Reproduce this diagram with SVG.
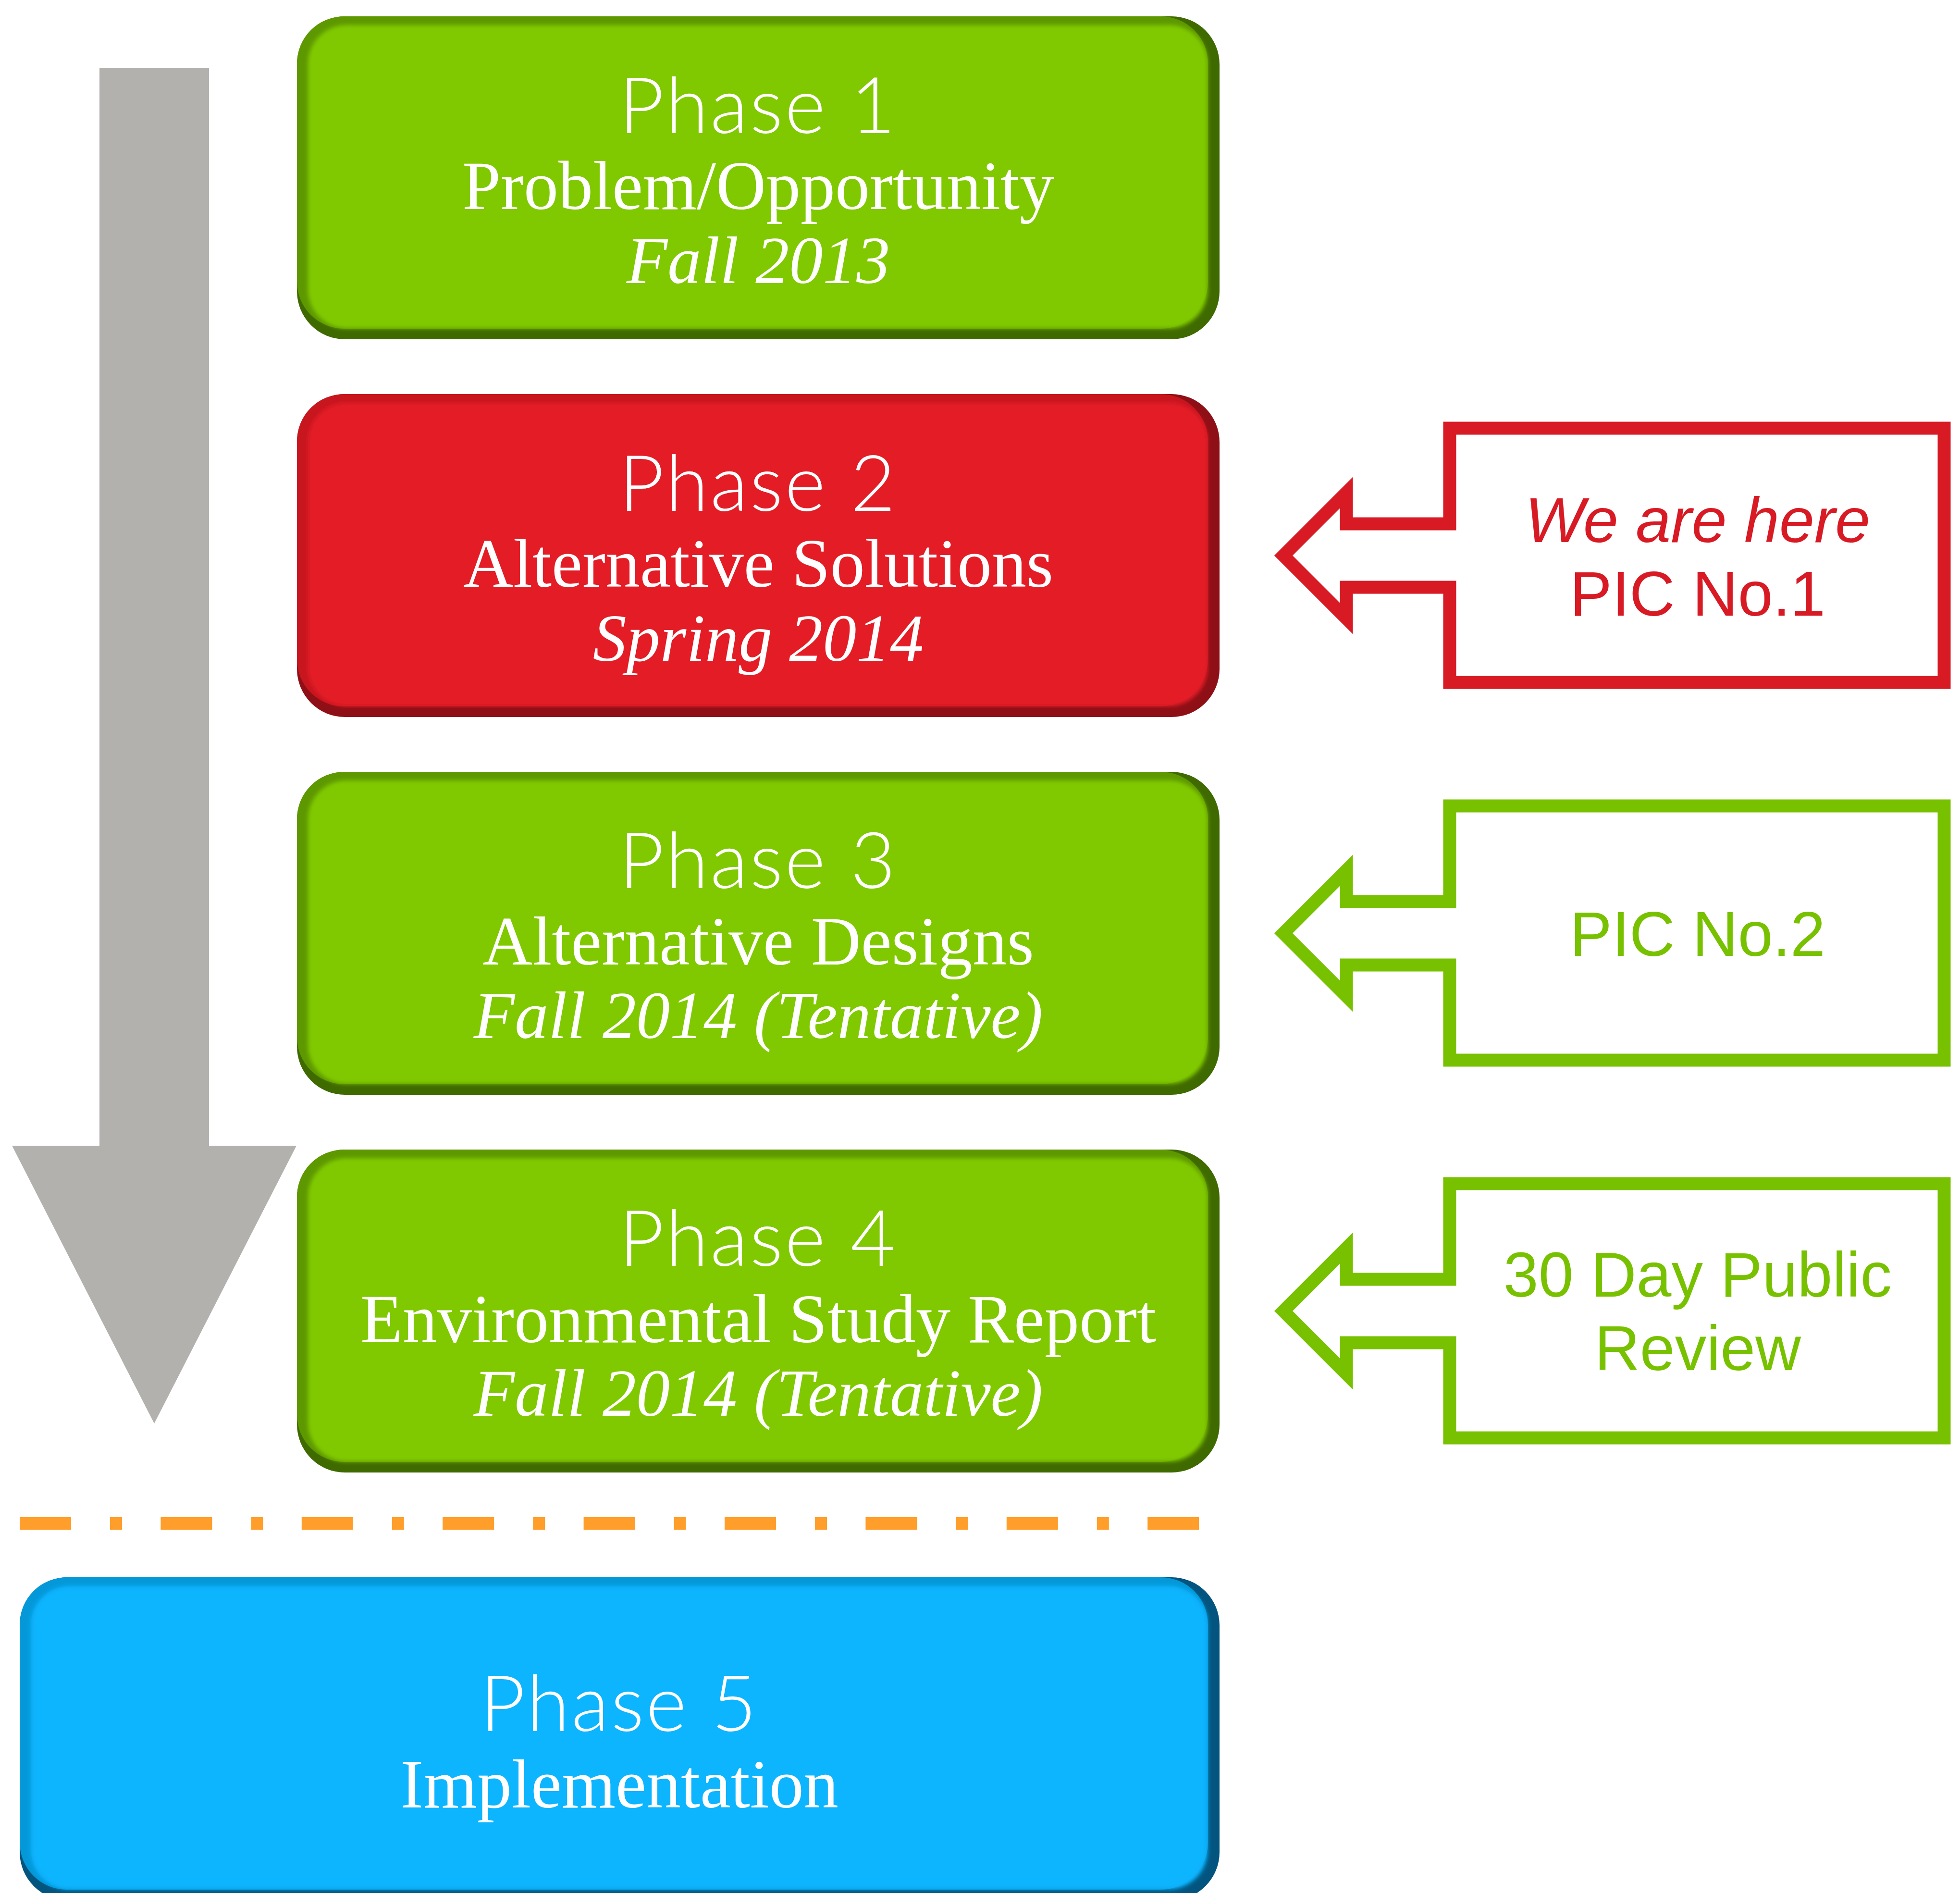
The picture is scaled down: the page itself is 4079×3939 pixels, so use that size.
<svg xmlns="http://www.w3.org/2000/svg" width="4079" height="3939" viewBox="0 0 4079 3939">
<style>
.title{font-family:"Lato","Roboto","Open Sans",sans-serif;font-weight:300;font-size:162px;letter-spacing:4px;fill:#fff;text-anchor:middle}
.sub{font-family:"Liberation Serif","Times New Roman",serif;font-size:144px;fill:#fff;text-anchor:middle}
.date{font-family:"Liberation Serif","Times New Roman",serif;font-style:italic;font-size:140px;fill:#fff;text-anchor:middle}
.call{font-family:"Liberation Sans",Arial,sans-serif;font-size:131px;text-anchor:middle}
.callout{fill:#fff;stroke-width:27;stroke-linejoin:miter;stroke-miterlimit:10}
.red{stroke:#D71A24}
.grn{stroke:#78C100}
.gdark{fill:#3F6A00}.gmid{fill:#5E9800}.gface{fill:#80C905}.ghi{stroke:#B8F53C}
.rdark{fill:#8E1016}.rmid{fill:#C8161F}.rface{fill:#E31E28}.rhi{stroke:#F4444E}
.bdark{fill:#03557F}.bmid{fill:#0598D8}.bface{fill:#07B4FE}.bhi{stroke:#45EAFF}
.hi{fill:none;stroke-width:9;stroke-linecap:round}
</style>
<defs>
<filter id="soft" x="-5%" y="-5%" width="110%" height="110%"><feGaussianBlur stdDeviation="4"/></filter>
</defs>
<rect x="0" y="0" width="4079" height="3939" fill="#fff"/>

<g id="flow-arrow">
<polygon points="207,142 435,142 435,2384 617,2384 321,2962 25,2384 207,2384" fill="#B2B1AD"/>
</g>

<g id="phase1">
<rect class="gdark" x="618" y="34" width="1920" height="672" rx="100"/>
<rect class="gmid" x="618" y="34" width="1896" height="650" rx="98"/>
<rect class="gface" x="641" y="52" width="1872" height="631" rx="80" filter="url(#soft)"/>
<path class="hi ghi" d="M 720 62 H 2440" filter="url(#soft)"/>
<text class="title" x="1578" y="277">Phase 1</text>
<text class="sub" x="1578" y="435">Problem/Opportunity</text>
<text class="date" x="1578" y="589">Fall 2013</text>
</g>

<g id="phase2">
<rect class="rdark" x="618" y="820" width="1920" height="672" rx="100"/>
<rect class="rmid" x="618" y="820" width="1896" height="650" rx="98"/>
<rect class="rface" x="641" y="838" width="1872" height="631" rx="80" filter="url(#soft)"/>
<path class="hi rhi" d="M 720 848 H 2440" filter="url(#soft)"/>
<text class="title" x="1578" y="1063">Phase 2</text>
<text class="sub" x="1578" y="1221">Alternative Solutions</text>
<text class="date" x="1578" y="1375">Spring 2014</text>
</g>

<g id="phase3">
<rect class="gdark" x="618" y="1606" width="1920" height="672" rx="100"/>
<rect class="gmid" x="618" y="1606" width="1896" height="650" rx="98"/>
<rect class="gface" x="641" y="1624" width="1872" height="631" rx="80" filter="url(#soft)"/>
<path class="hi ghi" d="M 720 1634 H 2440" filter="url(#soft)"/>
<text class="title" x="1578" y="1848">Phase 3</text>
<text class="sub" x="1578" y="2007">Alternative Designs</text>
<text class="date" x="1578" y="2160">Fall 2014 (Tentative)</text>
</g>

<g id="phase4">
<rect class="gdark" x="618" y="2392" width="1920" height="672" rx="100"/>
<rect class="gmid" x="618" y="2392" width="1896" height="650" rx="98"/>
<rect class="gface" x="641" y="2410" width="1872" height="631" rx="80" filter="url(#soft)"/>
<path class="hi ghi" d="M 720 2420 H 2440" filter="url(#soft)"/>
<text class="title" x="1578" y="2634">Phase 4</text>
<text class="sub" x="1578" y="2793">Environmental Study Report</text>
<text class="date" x="1578" y="2946">Fall 2014 (Tentative)</text>
</g>

<g id="separator">
<line x1="41" y1="3170" x2="2495" y2="3170" stroke="#FF9E2A" stroke-width="26" stroke-dasharray="107 81 25 80.4"/>
</g>

<g id="phase5">
<rect class="bdark" x="41" y="3282" width="2497" height="672" rx="100"/>
<rect class="bmid" x="41" y="3282" width="2473" height="650" rx="98"/>
<rect class="bface" x="64" y="3300" width="2449" height="631" rx="80" filter="url(#soft)"/>
<path class="hi bhi" d="M 143 3310 H 2440" filter="url(#soft)"/>
<text class="title" x="1289" y="3602">Phase 5</text>
<text class="sub" x="1289" y="3761">Implementation</text>
</g>

<g id="connectors">
<g id="callout1">
<path class="callout red" d="M 3017 891 H 4046 V 1420 H 3017 V 1222 H 2802 V 1287 L 2671 1156 L 2802 1025 V 1090 H 3017 Z"/>
<text class="call" x="3533" y="1128" fill="#D71A24" font-style="italic">We are here</text>
<text class="call" x="3533" y="1281" fill="#D71A24">PIC No.1</text>
</g>
<g id="callout2">
<path class="callout grn" d="M 3017 1677 H 4046 V 2206 H 3017 V 2008 H 2802 V 2073 L 2671 1942 L 2802 1811 V 1876 H 3017 Z"/>
<text class="call" x="3533" y="1989" fill="#78C100">PIC No.2</text>
</g>
<g id="callout3">
<path class="callout grn" d="M 3017 2463 H 4046 V 2992 H 3017 V 2794 H 2802 V 2859 L 2671 2728 L 2802 2597 V 2662 H 3017 Z"/>
<text class="call" x="3533" y="2698" fill="#78C100">30 Day Public</text>
<text class="call" x="3533" y="2851" fill="#78C100">Review</text>
</g>
</g>
</svg>
